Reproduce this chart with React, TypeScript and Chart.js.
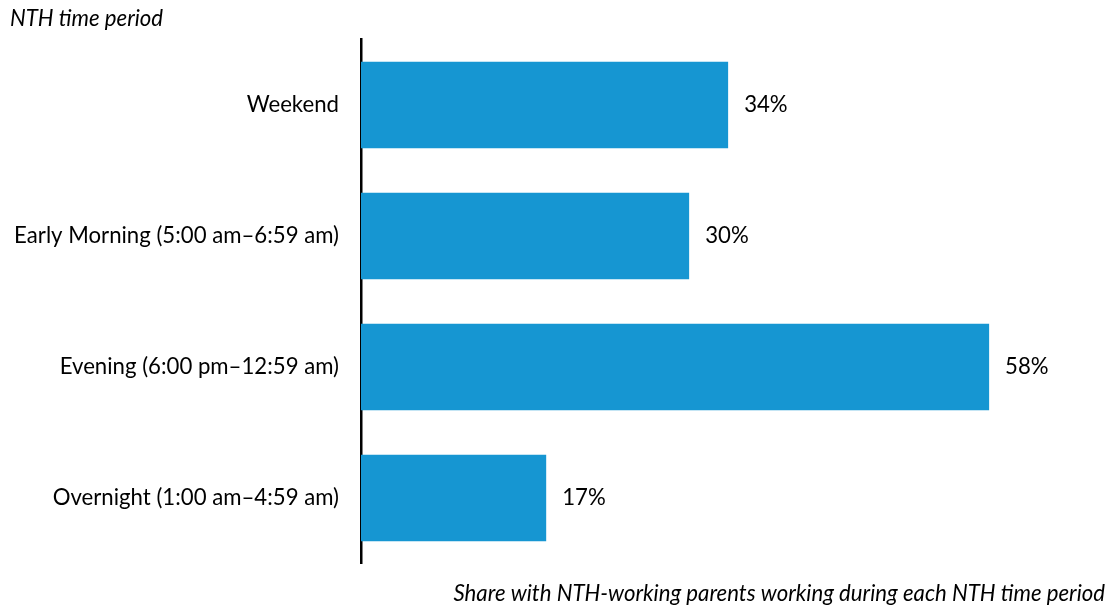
import React, { useEffect, useRef } from "react";
import { Chart, registerables } from "chart.js";

Chart.register(...registerables);

const categories: string[] = [
  "Weekend",
  "Early Morning (5:00 am–6:59 am)",
  "Evening (6:00 pm–12:59 am)",
  "Overnight (1:00 am–4:59 am)",
];
const shares: number[] = [33.9, 30.3, 58.0, 17.1];
const valueLabels: string[] = ["34%", "30%", "58%", "17%"];
const yTitle = "NTH time period";
const xTitle = "Share with NTH-working parents working during each NTH time period";
const X_MAX = 68.7;

const BLUE = "#1696d2";
const FONT = "Lato, 'Noto Sans', sans-serif";
const FS = 22.2;

const barLabelPlugin = {
  id: "barLabels",
  afterDatasetsDraw(chart: any) {
    const ctx = chart.ctx;
    const meta = chart.getDatasetMeta(0);
    ctx.save();
    ctx.font = `${FS}px ${FONT}`;
    ctx.fillStyle = "#000";
    ctx.textAlign = "left";
    ctx.textBaseline = "middle";
    meta.data.forEach((bar: any, i: number) => {
      ctx.fillText(valueLabels[i], bar.x + 16, bar.y);
    });
    ctx.restore();
  },
};

export default function App() {
  const canvasRef = useRef<HTMLCanvasElement | null>(null);

  useEffect(() => {
    if (!canvasRef.current) return;
    const chart = new Chart(canvasRef.current, {
      type: "bar",
      data: {
        labels: categories,
        datasets: [
          {
            data: shares,
            backgroundColor: BLUE,
            borderWidth: 0,
            barPercentage: 0.66,
            categoryPercentage: 1,
          },
        ],
      },
      options: {
        indexAxis: "y",
        animation: false,
        responsive: true,
        maintainAspectRatio: false,
        layout: { padding: { left: 10, right: 6, top: 0, bottom: 0 } },
        plugins: {
          legend: { display: false },
          tooltip: { enabled: false },
          title: {
            display: true,
            text: yTitle,
            align: "start",
            color: "#000",
            font: { family: FONT, size: FS, style: "italic", weight: "normal" },
            padding: { top: 6, bottom: 6.9 },
          },
        },
        scales: {
          x: {
            min: 0,
            max: X_MAX,
            grid: { display: false, drawTicks: false },
            border: { display: false },
            ticks: { display: false },
            title: {
              display: true,
              text: xTitle,
              align: "end",
              color: "#000",
              font: { family: FONT, size: FS, style: "italic", weight: "normal" },
              padding: { top: 17, bottom: 5.9 },
            },
          },
          y: {
            grid: { display: false, drawTicks: false },
            border: { display: true, color: "#000", width: 2.5 },
            ticks: {
              color: "#000",
              padding: 22,
              font: { family: FONT, size: FS },
            },
            afterFit: (scale: any) => {
              scale.width = 351;
            },
          },
        },
      },
      plugins: [barLabelPlugin],
    });
    return () => chart.destroy();
  }, []);

  return (
    <div style={{ position: "absolute", left: 0, top: 0, width: 1111, height: 613, background: "#fff" }}>
      <canvas ref={canvasRef} />
    </div>
  );
}
